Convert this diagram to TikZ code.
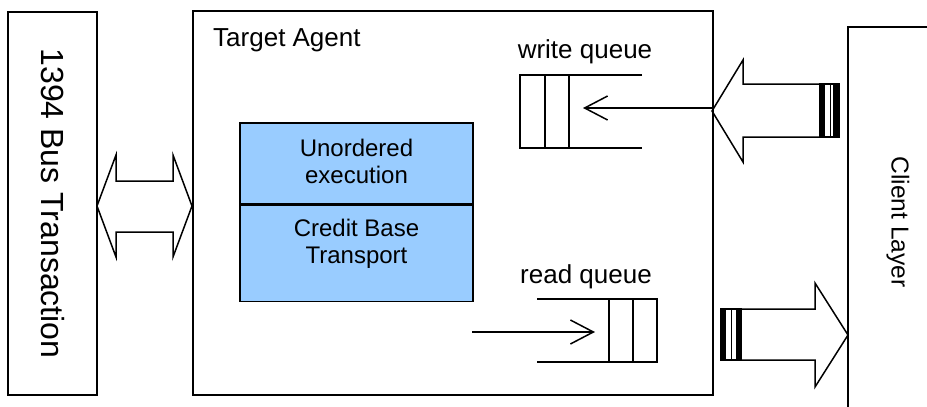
\documentclass[tikz,border=0pt]{standalone}
\usepackage{fontspec}
\setmainfont{Liberation Sans}
\usetikzlibrary{arrows.meta,positioning}

\definecolor{layerblue}{HTML}{99CCFF}
\tikzset{
  box/.style={draw,line width=1.5pt,inner sep=0pt},
  layer/.style={box,fill=layerblue,minimum width=233pt},
  txt/.style={font=\fontsize{24}{27}\selectfont,align=center,inner sep=0pt},
  bigtxt/.style={font=\fontsize{26}{30}\selectfont,inner sep=0pt},
  flow/.style={line width=1.5pt,-{Straight Barb[length=23pt,width=24pt,line width=1.5pt]}},
  fat/.style={line width=1.5pt,line join=miter}
}

\begin{document}
\begin{tikzpicture}[x=1pt,y=-1pt]
\useasboundingbox (0,0) rectangle (927,407);
% side boxes
\node[box,rotate=-90,minimum width=383pt,minimum height=89pt,
      font=\fontsize{32}{36}\selectfont] (bus) at (52.5,203.5) {1394 Bus Transaction};
\draw[fat] (927,27) -- (848,27) -- (848,407);
\node[bigtxt,rotate=-90,font=\fontsize{24.5}{28}\selectfont] (client) at (898,222) {Client Layer};
% target agent
\node[box,minimum width=520pt,minimum height=384pt] (agent) at (453,203) {};
\node[bigtxt,anchor=base west] (agentlbl) at (213,46) {Target Agent};
\node[layer,minimum height=81pt] (unord) at (356.5,163.5) {};
\node[txt] (unordlbl) at (356.5,161.5) {Unordered\\execution};
\node[layer,minimum height=96pt,below=0pt of unord] (credit) {};
\node[txt,below=14pt of credit.north] (creditlbl) {Credit Base\\Transport};
% write queue
\draw[fat] (642,75) -- (520,75) -- (520,148) -- (642,148);
\draw[fat] (545,75) -- (545,148);
\draw[fat] (569,75) -- (569,148);
\node[bigtxt] (wqlbl) at (585,52) {write queue};
\coordinate (win) at (712,108);
\coordinate (wout) at (583,108);
\draw[flow] (win) -- (wout);
% read queue
\draw[fat] (537,299) -- (657,299) -- (657,362) -- (537,362);
\draw[fat] (609,299) -- (609,362);
\draw[fat] (633,299) -- (633,362);
\node[bigtxt] (rqlbl) at (586,277) {read queue};
\coordinate (rin) at (472,332);
\coordinate (rout) at (595,332);
\draw[flow] (rin) -- (rout);
% bus <-> agent
\draw[fat] (97,206) -- (116,155) -- (116,181) -- (173,181) -- (173,155) -- (192,206)
  -- (173,257) -- (173,232) -- (116,232) -- (116,257) -- cycle;
% client -> write queue
\draw[fat] (712,111) -- (743,60) -- (743,84) -- (820,84) -- (820,137) -- (743,137) -- (743,162) -- cycle;
\draw[fat] (820,84) rectangle (839,137);
\fill[black] (820,84) rectangle (825,137);
\fill[black] (833,84) rectangle (838,137);
\draw[line width=1pt] (830,84) -- (830,137);
% read queue -> client
\draw[fat] (848,335) -- (815,283) -- (815,309) -- (741,309) -- (741,360) -- (815,360) -- (815,387) -- cycle;
\draw[fat] (721,309) rectangle (741,360);
\fill[black] (721,309) rectangle (726,360);
\fill[black] (736,309) rectangle (741,360);
\draw[line width=1pt] (731,309) -- (731,360);
\end{tikzpicture}
\end{document}
